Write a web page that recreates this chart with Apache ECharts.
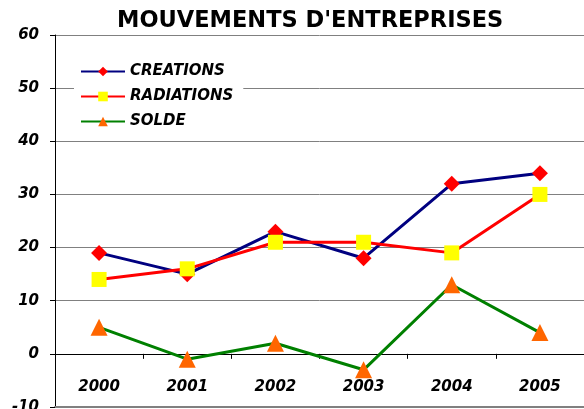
<!DOCTYPE html>
<html>
<head>
<meta charset="utf-8">
<script src="https://cdn.jsdelivr.net/npm/echarts@6/dist/echarts.min.js"></script>
<style>
  html, body { margin: 0; padding: 0; background: #fff; }
  #chart { width: 584px; height: 409px; }
</style>
</head>
<body>
<div id="chart"></div>
<script>
const years = ['2000', '2001', '2002', '2003', '2004', '2005']
const creations = [19, 15, 23, 18, 32, 34]
const radiations = [14, 16, 21, 21, 19, 30]
const solde = [5, -1, 2, -3, 13, 4]

const axisFont = {
  color: '#000',
  fontFamily: 'DejaVu Sans',
  fontStyle: 'italic',
  fontWeight: 'bold',
  fontSize: 15
}

const chart = echarts.init(document.getElementById('chart'))

chart.setOption({
  backgroundColor: '#fff',
  animation: false,
  title: {
    text: "MOUVEMENTS D'ENTREPRISES",
    left: 117,
    top: 10,
    padding: 0,
    textStyle: {
      color: '#000',
      fontFamily: 'DejaVu Sans',
      fontWeight: 'bold',
      fontSize: 22.5
    }
  },
  legend: {
    orient: 'vertical',
    left: 74,
    top: 58,
    padding: [6, 10, 6, 6],
    itemWidth: 44,
    itemHeight: 12,
    itemGap: 10,
    backgroundColor: '#fff',
    data: ['CREATIONS', 'RADIATIONS', 'SOLDE'],
    textStyle: axisFont
  },
  grid: {
    left: 55,
    right: 0,
    top: 35,
    bottom: 2,
    containLabel: false,
    outerBoundsMode: 'none'
  },
  xAxis: [
    {
      type: 'category',
      data: years,
      boundaryGap: true,
      axisLine: { onZero: true, lineStyle: { color: '#000', width: 1 } },
      axisTick: { show: true, length: 5, lineStyle: { color: '#000' } },
      axisLabel: { show: false },
      splitLine: { show: false }
    },
    {
      // bottom border of the plot, also carries the year labels
      type: 'category',
      data: years,
      position: 'bottom',
      axisLine: { onZero: false, lineStyle: { color: '#808080', width: 2 } },
      axisTick: { show: false },
      axisLabel: Object.assign({ margin: -27 }, axisFont),
      splitLine: { show: false }
    }
  ],
  yAxis: {
    type: 'value',
    min: -10,
    max: 60,
    interval: 10,
    axisLine: { show: true, lineStyle: { color: '#000', width: 1 } },
    axisTick: { show: true, length: 5, lineStyle: { color: '#000' } },
    axisLabel: Object.assign({ margin: 16 }, axisFont),
    splitLine: { show: true, lineStyle: { color: '#808080', width: 1 } }
  },
  series: [
    {
      name: 'CREATIONS',
      type: 'line',
      data: creations,
      symbol: 'diamond',
      symbolSize: 16,
      lineStyle: { color: '#000080', width: 3 },
      itemStyle: { color: '#ff0000', borderWidth: 0 }
    },
    {
      name: 'RADIATIONS',
      type: 'line',
      data: radiations,
      symbol: 'rect',
      symbolSize: 15,
      lineStyle: { color: '#ff0000', width: 3 },
      itemStyle: { color: '#ffff00', borderWidth: 0 }
    },
    {
      name: 'SOLDE',
      type: 'line',
      data: solde,
      symbol: 'triangle',
      symbolSize: 17,
      lineStyle: { color: '#008000', width: 3 },
      itemStyle: { color: '#ff6600', borderWidth: 0 }
    }
  ]
})
</script>
</body>
</html>
